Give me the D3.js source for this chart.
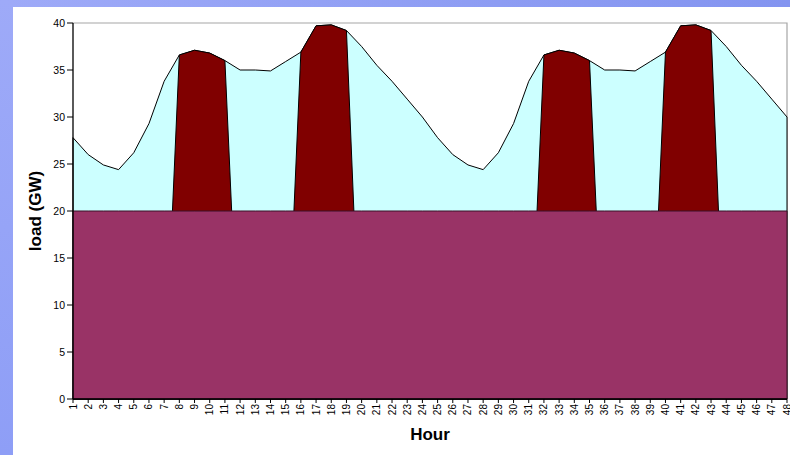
<!DOCTYPE html>
<html>
<head>
<meta charset="utf-8">
<script src="https://cdn.jsdelivr.net/npm/d3@7"></script>
<style>
  html, body { margin: 0; padding: 0; background: #ffffff; }
  svg { display: block; font-family: Arial, "Liberation Sans", sans-serif; }
</style>
</head>
<body>
<svg id="chart" width="790" height="455"></svg>
<script>
// ---- data ----
const hours = ["1","2","3","4","5","6","7","8","9","10","11","12","13","14","15","16","17","18","19","20","21","22","23","24",
               "25","26","27","28","29","30","31","32","33","34","35","36","37","38","39","40","41","42","43","44","45","46","47","48"];
const load = [27.8, 26.0, 24.9, 24.4, 26.2, 29.3, 33.8, 36.6, 37.1, 36.8, 36.0, 35.0,
              35.0, 34.9, 35.9, 36.9, 39.7, 39.8, 39.2, 37.5, 35.5, 33.8, 31.9, 30.0,
              27.8, 26.0, 24.9, 24.4, 26.2, 29.3, 33.8, 36.6, 37.1, 36.8, 36.0, 35.0,
              35.0, 34.9, 35.9, 36.9, 39.7, 39.8, 39.2, 37.5, 35.5, 33.8, 31.9, 30.0];
const peak = [0, 0, 0, 0, 0, 0, 0, 36.6, 37.1, 36.8, 36.0, 0,
              0, 0, 0, 36.9, 39.7, 39.8, 39.2, 0, 0, 0, 0, 0,
              0, 0, 0, 0, 0, 0, 0, 36.6, 37.1, 36.8, 36.0, 0,
              0, 0, 0, 36.9, 39.7, 39.8, 39.2, 0, 0, 0, 0, 0];
const base = [20, 20, 20, 20, 20, 20, 20, 20, 20, 20, 20, 20,
              20, 20, 20, 20, 20, 20, 20, 20, 20, 20, 20, 20,
              20, 20, 20, 20, 20, 20, 20, 20, 20, 20, 20, 20,
              20, 20, 20, 20, 20, 20, 20, 20, 20, 20, 20, 20];
const yTicks = [0, 5, 10, 15, 20, 25, 30, 35, 40];

// ---- layout ----
const W = 790, H = 455;
const L = 73, R = 787, T = 23, B = 399;
const svg = d3.select("#chart");

// background frame (blue strips)
const defs = svg.append("defs");
const gTop = defs.append("linearGradient").attr("id", "gtop").attr("x1", "0").attr("x2", "1").attr("y1", "0").attr("y2", "0");
gTop.append("stop").attr("offset", "0").attr("stop-color", "#9eaaf8");
gTop.append("stop").attr("offset", "1").attr("stop-color", "#8394f0");
const gLeft = defs.append("linearGradient").attr("id", "gleft").attr("x1", "0").attr("x2", "0").attr("y1", "0").attr("y2", "1");
gLeft.append("stop").attr("offset", "0").attr("stop-color", "#9eaaf8");
gLeft.append("stop").attr("offset", "1").attr("stop-color", "#8e9ef6");

svg.append("rect").attr("x", 0).attr("y", 0).attr("width", W).attr("height", H).attr("fill", "#ffffff");
svg.append("rect").attr("x", 0).attr("y", 0).attr("width", W).attr("height", 7).attr("fill", "url(#gtop)");
svg.append("rect").attr("x", 0).attr("y", 0).attr("width", 13).attr("height", H).attr("fill", "url(#gleft)");

// scales
const x = d3.scalePoint().domain(hours).range([L, R]);
const y = d3.scaleLinear().domain([0, 40]).range([B, T]);

const area = vals => d3.area()
  .x((d, i) => x(hours[i]))
  .y0(y(0))
  .y1(d => y(d))(vals);

// plot area border (gray top & right)
svg.append("path")
  .attr("d", `M${L},${y(40)}H${x("48")}V${y(0)}`)
  .attr("fill", "none").attr("stroke", "#a6a6a6").attr("stroke-width", 1.2);

// series
svg.append("path").attr("d", area(load))
  .attr("fill", "#ccffff").attr("stroke", "#000000").attr("stroke-width", 1).attr("stroke-linejoin", "round");
svg.append("path").attr("d", area(peak))
  .attr("fill", "#800000").attr("stroke", "#000000").attr("stroke-width", 1).attr("stroke-linejoin", "round");
svg.append("path").attr("d", area(base))
  .attr("fill", "#993366").attr("stroke", "#3a1026").attr("stroke-width", 1);

// y axis
const yAxis = svg.append("g");
yAxis.append("line").attr("x1", L).attr("x2", L).attr("y1", y(40)).attr("y2", y(0))
  .attr("stroke", "#000").attr("stroke-width", 1.3);
yAxis.selectAll("line.tick").data(yTicks).enter().append("line")
  .attr("class", "tick")
  .attr("x1", L - 6).attr("x2", L).attr("y1", d => y(d)).attr("y2", d => y(d))
  .attr("stroke", "#000").attr("stroke-width", 1);
yAxis.selectAll("text").data(yTicks).enter().append("text")
  .attr("x", L - 8).attr("y", d => y(d)).attr("dy", "0.35em")
  .attr("text-anchor", "end").attr("font-size", "10.5px").attr("fill", "#000")
  .text(d => d);

// x axis
const xAxis = svg.append("g");
xAxis.append("line").attr("x1", L).attr("x2", R).attr("y1", B).attr("y2", B)
  .attr("stroke", "#000").attr("stroke-width", 1.3);
xAxis.selectAll("line.tick").data(hours).enter().append("line")
  .attr("class", "tick")
  .attr("x1", d => x(d)).attr("x2", d => x(d)).attr("y1", B).attr("y2", B + 4)
  .attr("stroke", "#000").attr("stroke-width", 1);
xAxis.selectAll("text").data(hours).enter().append("text")
  .attr("transform", d => `translate(${x(d)},${B + 5}) rotate(-90)`)
  .attr("dy", "0.35em")
  .attr("text-anchor", "end").attr("font-size", "10px").attr("fill", "#000")
  .text(d => d);

// axis titles
svg.append("text")
  .attr("x", (L + R) / 2).attr("y", 440)
  .attr("text-anchor", "middle").attr("font-size", "17px").attr("font-weight", "bold")
  .text("Hour");
svg.append("text")
  .attr("transform", `translate(41,${(T + B) / 2}) rotate(-90)`)
  .attr("text-anchor", "middle").attr("font-size", "17px").attr("font-weight", "bold")
  .text("load (GW)");
</script>
</body>
</html>
